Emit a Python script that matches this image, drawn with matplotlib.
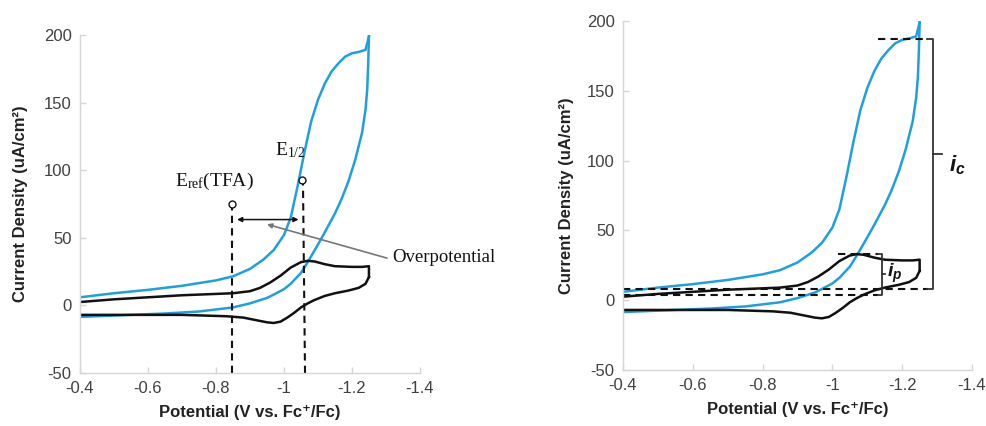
import matplotlib
matplotlib.use("Agg")
import matplotlib.pyplot as plt

# ---------------- data ----------------
# TFA (blue) CV: cathodic sweep (upper branch) and return sweep (lower branch)
blue_fwd_x = [-0.40, -0.50, -0.60, -0.70, -0.80, -0.85, -0.90, -0.94, -0.97, -1.00,
              -1.02, -1.04, -1.06, -1.08, -1.10, -1.12, -1.14, -1.16, -1.18, -1.20,
              -1.22, -1.24, -1.25]
blue_fwd_y = [6, 9, 11.5, 14.5, 18.5, 21.5, 27, 34, 41, 52,
              65, 88, 113, 136, 152, 164, 173, 179, 184, 186.5,
              187.5, 189, 199]
blue_rev_x = [-1.25, -1.248, -1.245, -1.24, -1.23, -1.21, -1.19, -1.17, -1.15, -1.12,
              -1.10, -1.07, -1.05, -1.02, -1.00, -0.97, -0.95, -0.90, -0.85, -0.75,
              -0.65, -0.55, -0.40]
blue_rev_y = [199, 180, 160, 145, 128, 108, 92, 79, 68, 54,
              45, 32, 24, 16, 12, 8, 5.5, 1.5, -1.5, -4.5,
              -6, -7, -8.5]

# catalyst only (black) CV
black_fwd_x = [-0.40, -0.50, -0.60, -0.70, -0.80, -0.85, -0.90, -0.93, -0.96, -0.99,
               -1.02, -1.05, -1.07, -1.09, -1.12, -1.15, -1.20, -1.23, -1.25, -1.25]
black_fwd_y = [2.5, 4.5, 6, 7.5, 8.5, 9, 10.5, 13, 17, 22,
               28, 32, 33, 32.5, 30.5, 29, 28.5, 28.5, 29, 21]
black_rev_x = [-1.25, -1.24, -1.22, -1.19, -1.15, -1.12, -1.09, -1.07, -1.05, -1.03,
               -1.01, -0.99, -0.97, -0.95, -0.92, -0.88, -0.83, -0.70, -0.55, -0.40]
black_rev_y = [21, 16, 13, 11, 9, 7, 4, 1.5, -1.5, -5.5,
               -9, -12, -13, -12.5, -11, -9, -8, -7, -7, -7]

x_ticks = [-0.4, -0.6, -0.8, -1.0, -1.2, -1.4]
x_ticklabels = ["-0.4", "-0.6", "-0.8", "-1", "-1.2", "-1.4"]
y_ticks = [-50, 0, 50, 100, 150, 200]

# annotation values
e_ref = (-0.847, 75)
e_half = (-1.053, 93)
ic_top, ic_bottom = 187, 8
ip_top, ip_bottom = 33, 3.5

# ---------------- style ----------------
plt.rcParams['font.family'] = ['Liberation Sans', 'DejaVu Sans']
plt.rcParams['axes.unicode_minus'] = False
plt.rcParams['mathtext.fontset'] = 'custom'
plt.rcParams['mathtext.rm'] = 'Liberation Serif'
plt.rcParams['mathtext.it'] = 'Liberation Sans:italic:bold'
plt.rcParams['mathtext.bf'] = 'Liberation Sans:bold'

BLUE = '#1e9fe0'
BLACK = '#111111'
SPINE = '#d6d6d6'
TICKC = '#404040'

fig = plt.figure(figsize=(9.86, 4.26), dpi=100)
ax1 = fig.add_axes([0.0811, 0.1244, 0.3448, 0.7934])
ax2 = fig.add_axes([0.6318, 0.1315, 0.3540, 0.8192])


def style(ax, labelpad_y):
    ax.plot(blue_fwd_x, blue_fwd_y, color=BLUE, lw=1.8, solid_joinstyle='round')
    ax.plot(blue_rev_x, blue_rev_y, color=BLUE, lw=1.8, solid_joinstyle='round')
    ax.plot(black_fwd_x, black_fwd_y, color=BLACK, lw=1.8, solid_joinstyle='round')
    ax.plot(black_rev_x, black_rev_y, color=BLACK, lw=1.8, solid_joinstyle='round')
    ax.set_xlim(-0.4, -1.4)
    ax.set_ylim(-50, 200)
    ax.set_xticks(x_ticks)
    ax.set_xticklabels(x_ticklabels)
    ax.set_yticks(y_ticks)
    for s in ['top', 'right']:
        ax.spines[s].set_visible(False)
    for s in ['left', 'bottom']:
        ax.spines[s].set_color(SPINE)
        ax.spines[s].set_linewidth(1.0)
    ax.tick_params(direction='in', length=4, width=1, color=SPINE,
                   labelcolor=TICKC, labelsize=12, pad=6)
    ax.set_xlabel('Potential (V vs. Fc\u207a/Fc)', fontsize=12, fontweight='bold',
                  color='#222222', labelpad=6)
    ax.set_ylabel('Current Density (uA/cm\u00b2)', fontsize=12, fontweight='bold',
                  color='#222222', labelpad=labelpad_y)


style(ax1, 11)
style(ax2, 9)

# ---------------- left annotations ----------------
dash = dict(color=BLACK, lw=1.5, ls=(0, (3.5, 2.5)))
ax1.plot([e_ref[0], e_ref[0]], [-50, e_ref[1] - 3], **dash)
ax1.plot([-1.062, e_half[0] - 0.003], [-50, e_half[1] - 3], **dash)
ax1.plot([e_ref[0]], [e_ref[1]], 'o', ms=5, mfc='white', mec=BLACK, mew=1)
ax1.plot([e_half[0]], [e_half[1]], 'o', ms=5, mfc='white', mec=BLACK, mew=1)
ax1.annotate('', xy=(-0.862, 63.5), xytext=(-1.043, 63.5),
             arrowprops=dict(arrowstyle='<|-|>', color=BLACK, lw=1.1,
                             mutation_scale=7, shrinkA=0, shrinkB=0))
ax1.annotate('', xy=(-0.95, 60), xytext=(-1.303, 35),
             arrowprops=dict(arrowstyle='-|>', color='#777777', lw=1.2,
                             mutation_scale=7, shrinkA=0, shrinkB=0))
ax1.text(-1.318, 35.5, 'Overpotential', family='Liberation Serif', fontsize=13.5,
         ha='left', va='center', color=BLACK)
ax1.text(-0.795, 92, r'$\mathrm{E_{ref}(TFA)}$', fontsize=14, ha='center',
         va='center', color=BLACK)
ax1.text(-1.018, 115, r'$\mathrm{E_{1/2}}$', fontsize=14, ha='center',
         va='center', color=BLACK)

# ---------------- right annotations ----------------
BR = '#333333'
ax2.plot([-1.131, -1.275], [ic_top, ic_top], **dash)
ax2.plot([-0.40, -1.275], [ic_bottom, ic_bottom], **dash)
ax2.plot([-1.272, -1.288, -1.288, -1.272], [ic_top, ic_top, ic_bottom, ic_bottom],
         color=BR, lw=1.3)
ax2.plot([-1.288, -1.313], [(ic_top + ic_bottom) / 2 + 7] * 2, color=BR, lw=1.3)
ax2.text(-1.335, 97, r'$i_c$', fontsize=16, ha='left', va='center', color=BLACK)

ax2.plot([-1.016, -1.132], [ip_top, ip_top], **dash)
ax2.plot([-0.40, -1.132], [ip_bottom, ip_bottom], **dash)
ax2.plot([-1.132, -1.142, -1.142, -1.132], [ip_top, ip_top, ip_bottom, ip_bottom],
         color=BR, lw=1.3)
ax2.plot([-1.142, -1.152], [19, 19], color=BR, lw=1.3)
ax2.text(-1.156, 19, r'$i_p$', fontsize=14, ha='left', va='center', color=BLACK)

fig.savefig('out.png', dpi=100)
